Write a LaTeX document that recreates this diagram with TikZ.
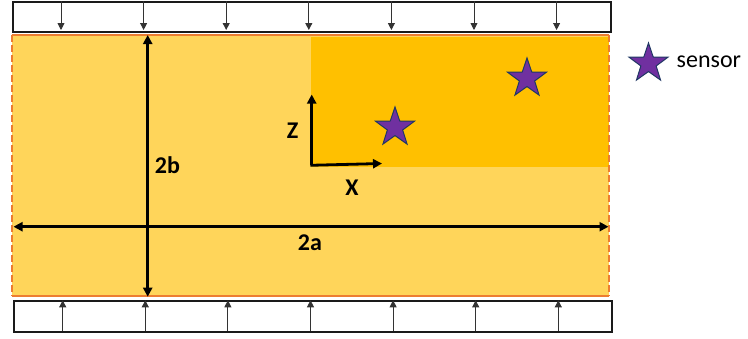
\documentclass[tikz,border=0pt]{standalone}
\usepackage{fontspec}
\setmainfont{Carlito}
\usetikzlibrary{arrows.meta,shapes.geometric}
\definecolor{lightgold}{HTML}{FFD55A}
\definecolor{darkgold}{HTML}{FFC000}
\definecolor{borderorange}{HTML}{ED7D31}
\definecolor{starpurple}{HTML}{7030A0}
\definecolor{staredge}{HTML}{203864}
\definecolor{boxedge}{HTML}{1A1A1A}
\tikzset{
  loadbox/.style={draw=boxedge, line width=2pt, fill=white},
  loadarrow/.style={draw=black!80, line width=0.9pt, -{Triangle[length=7pt,width=7pt]}},
  dimarrow/.style={draw=black, line width=2.8pt, {Triangle[length=9pt,width=9pt]}-{Triangle[length=9pt,width=9pt]}},
  axisarrow/.style={draw=black, line width=2.8pt, -{Triangle[length=9pt,width=9pt]}},
  lbl/.style={font=\fontsize{24}{28}\selectfont\bfseries, inner sep=0pt},
  sensorstar/.style={star, star points=5, star point ratio=2.55, minimum size=41pt, inner sep=0pt,
    fill=starpurple, draw=staredge, line width=1pt}
}
\begin{document}
\begin{tikzpicture}[x=1pt,y=-1pt]
\useasboundingbox (0,0) rectangle (748,338);
% main body
\fill[lightgold] (12.3,35) rectangle (609.3,296);
\fill[darkgold] (311,37) rectangle (609.3,166.5);
\draw[borderorange, line width=2.6pt] (12.3,35) -- (609.3,35);
\draw[borderorange, line width=2.6pt] (12.3,296) -- (609.3,296);
\draw[borderorange, line width=2pt, dash pattern=on 7pt off 3pt] (12.3,35) -- (12.3,296);
\draw[borderorange, line width=2pt, dash pattern=on 7pt off 3pt] (609.3,35) -- (609.3,296);
% load boxes
\node[loadbox, minimum width=598pt, minimum height=30pt, inner sep=0pt, anchor=north west] (topbox) at (11.5,1) {};
\node[loadbox, minimum width=598pt, minimum height=31pt, inner sep=0pt, anchor=north west] (botbox) at (12.5,299.5) {};
\foreach \i in {0,...,6} {
  \coordinate (ts\i) at ({61+82.6*\i},1);
  \coordinate (te\i) at ({61+82.6*\i},30);
  \draw[loadarrow] (ts\i) -- (te\i);
  \coordinate (bs\i) at ({62.7+82.6*\i},330.5);
  \coordinate (be\i) at ({62.7+82.6*\i},300.3);
  \draw[loadarrow] (bs\i) -- (be\i);
}
% dimension arrows
\coordinate (vtop) at (147.7,35);
\coordinate (vbot) at (147.7,296.7);
\coordinate (hl) at (13.5,226.7);
\coordinate (hr) at (608.5,226.7);
\draw[dimarrow] (vtop) -- (vbot);
\draw[dimarrow] (hl) -- (hr);
\node[lbl] (lb) at (167.5,165) {2b};
\node[lbl] (la) at (310,243) {2a};
% axes
\coordinate (orig) at (311.7,165.3);
\coordinate (zend) at (311.7,94.5);
\coordinate (xend) at (382,163.5);
\draw[axisarrow] (orig) -- (zend);
\draw[axisarrow] ([xshift=-1.4pt]orig) -- (xend);
\node[lbl] (lz) at (292.5,131) {Z};
\node[lbl] (lx) at (352,187.5) {X};
% sensors
\node[sensorstar] (s1) at (395,127.5) {};
\node[sensorstar] (s2) at (527,78.5) {};
% legend
\node[sensorstar] (ls) at (648.5,63.5) {};
\node[anchor=west, inner sep=0pt, font=\fontsize{24}{28}\selectfont] (lt) at (676.5,62) {sensor};
\end{tikzpicture}
\end{document}
